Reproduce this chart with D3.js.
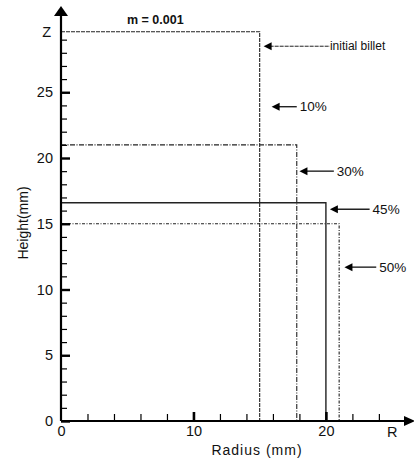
<!DOCTYPE html>
<html>
<head>
<meta charset="utf-8">
<script src="https://cdn.jsdelivr.net/npm/d3@7"></script>
<style>
  body { margin: 0; background: #fff; }
  text { font-family: "Liberation Sans", Arial, sans-serif; fill: #111; }
</style>
</head>
<body>
<div id="viz"></div>
<script>
"use strict";

const w = 414;
const h = 462;

// billet profiles after upsetting (height Z and radius R in mm)
const profileNames = ["initial billet", "30%", "45%", "50%"];
const profileHeights = [29.6, 21.0, 16.6, 15.0];
const profileRadii = [15.0, 17.8, 20.0, 21.0];

// arrow labels on the right
const labelNames = ["initial billet", "10%", "30%", "45%", "50%"];

// tick values
const xMajorTicks = [0, 10, 20];
const xMinorTicks = [2, 4, 6, 8, 12, 14, 16, 18, 22, 24];
const yMajorTicks = [0, 5, 10, 15, 20, 25];
const yMinorTicks = [1, 2, 3, 4, 6, 7, 8, 9, 11, 12, 13, 14, 16, 17, 18, 19, 21, 22, 23, 24, 26, 27, 28, 29];

const svg = d3.select("#viz")
  .append("svg")
  .attr("width", w)
  .attr("height", h)

const x = d3.scaleLinear().domain([0, 26.5]).range([61, 412]);
const y = d3.scaleLinear().domain([0, 30]).range([421, 26.5]);

// line style per profile
const dashes = {
  "initial billet": "4,1",
  "30%": "5,1.5,1,1.5",
  "45%": null,
  "50%": "3,1.5,1,1.5"
}

const line = d3.line().x(d => x(d[0])).y(d => y(d[1]))

profileNames.forEach((name, i) => {
  const z = profileHeights[i]
  const r = profileRadii[i]
  svg.append("path")
    .attr("d", line([[0, z], [r, z], [r, 0]]))
    .attr("fill", "none")
    .attr("stroke", "#222")
    .attr("stroke-width", name === "45%" ? 1.4 : 1.1)
    .attr("stroke-dasharray", dashes[name])
})

// axes lines with arrow heads
svg.append("line")
  .attr("x1", x(0)).attr("y1", y(0))
  .attr("x2", x(0)).attr("y2", 14)
  .attr("stroke", "#000").attr("stroke-width", 2.2)
svg.append("path")
  .attr("d", `M${x(0)},6 L${x(0) - 7},16 L${x(0) + 7},16 Z`)
  .attr("fill", "#000")
svg.append("line")
  .attr("x1", x(0)).attr("y1", y(0))
  .attr("x2", 406).attr("y2", y(0))
  .attr("stroke", "#000").attr("stroke-width", 2.2)
svg.append("path")
  .attr("d", `M415,${y(0)} L404,${y(0) - 5} L404,${y(0) + 5} Z`)
  .attr("fill", "#000")

// y ticks (pointing inward)
const yMinor = svg.append("g")
  .attr("transform", `translate(${x(0)},0)`)
  .call(d3.axisLeft(y).tickValues(yMinorTicks).tickSize(-6).tickFormat(""))
const yMajor = svg.append("g")
  .attr("transform", `translate(${x(0)},0)`)
  .call(d3.axisLeft(y).tickValues(yMajorTicks).tickSize(-9).tickPadding(8).tickFormat(d3.format("d")))

const xMinor = svg.append("g")
  .attr("transform", `translate(0,${y(0)})`)
  .call(d3.axisBottom(x).tickValues(xMinorTicks).tickSize(-7).tickFormat(""))
const xMajor = svg.append("g")
  .attr("transform", `translate(0,${y(0)})`)
  .call(d3.axisBottom(x).tickValues(xMajorTicks).tickSize(-9).tickPadding(5).tickFormat(d3.format("d")))

;[yMinor, yMajor, xMinor, xMajor].forEach(g => {
  g.select(".domain").remove()
  g.selectAll("line").attr("stroke", "#000")
  g.selectAll("text")
    .style("font-family", "'Liberation Sans', Arial, sans-serif")
    .style("font-size", "14.5px")
    .attr("fill", "#111")
})
yMinor.selectAll("line").attr("stroke-width", 1.2)
xMinor.selectAll("line").attr("stroke-width", 1.2)
yMajor.selectAll("line").attr("stroke-width", 2.4)
xMajor.selectAll("line").attr("stroke-width", 2.6)
xMajor.selectAll(".tick").filter(d => d === 0).select("line").remove()

// axis end labels
svg.append("text")
  .attr("x", 51).attr("y", y(29.6))
  .attr("dy", "0.35em")
  .attr("text-anchor", "end")
  .style("font-size", "14.5px")
  .text("Z")
svg.append("text")
  .attr("x", x(25)).attr("y", 437)
  .attr("text-anchor", "middle")
  .style("font-size", "14.5px")
  .text("R")

// axis titles
svg.append("text")
  .attr("x", 257).attr("y", 455)
  .attr("text-anchor", "middle")
  .style("font-size", "14px")
  .style("letter-spacing", "1px")
  .text("Radius (mm)")
svg.append("text")
  .attr("transform", `translate(28,223) rotate(-90)`)
  .attr("text-anchor", "middle")
  .style("font-size", "14px")
  .text("Height(mm)")

// friction factor note
svg.append("text")
  .attr("x", 127).attr("y", 24)
  .style("font-size", "12.5px")
  .style("font-weight", "bold")
  .text("m = 0.001")

// arrow annotations (tip radius, tail radius, height) in data units
const arrows = {
  "initial billet": [15.3, 20.3, 28.5],
  "10%": [15.9, 17.8, 23.9],
  "30%": [18.0, 20.6, 19.0],
  "45%": [20.3, 23.3, 16.1],
  "50%": [21.4, 23.8, 11.7]
}

labelNames.forEach(name => {
  const [tip, tail, z] = arrows[name]
  const tx = x(tip)
  const ty = y(z)
  svg.append("line")
    .attr("x1", tx + 6).attr("y1", ty)
    .attr("x2", x(tail)).attr("y2", ty)
    .attr("stroke", "#222").attr("stroke-width", name === "initial billet" ? 1 : 1.4)
    .attr("stroke-dasharray", name === "initial billet" ? "4,1" : null)
  svg.append("path")
    .attr("d", `M${tx},${ty} L${tx + 8},${ty - 4} L${tx + 8},${ty + 4} Z`)
    .attr("fill", "#000")
  svg.append("text")
    .attr("x", x(tail) + (name === "initial billet" ? 0 : 3))
    .attr("y", ty)
    .attr("dy", "0.35em")
    .style("font-size", name === "initial billet" ? "12px" : "13.5px")
    .text(name)
})
</script>
</body>
</html>
